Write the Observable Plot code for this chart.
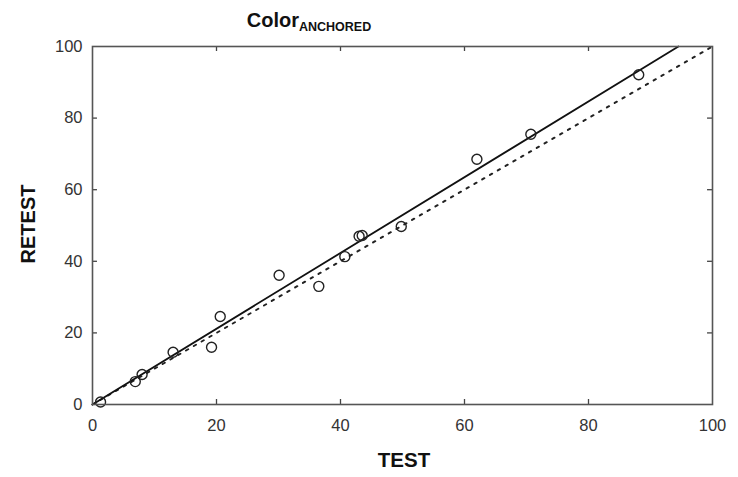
<!DOCTYPE html>
<html><head><meta charset="utf-8">
<script src="https://cdn.jsdelivr.net/npm/d3@7"></script>
<script src="https://cdn.jsdelivr.net/npm/@observablehq/plot@0.6"></script>
<style>body{margin:0;background:#fff} #chart{width:738px;height:477px}</style>
</head><body><div id="chart"></div>
<script>
// Data
const testScores   = [1.3, 6.9, 8.0, 13.0, 19.2, 20.6, 30.1, 36.5, 40.7, 43.0, 43.5, 49.8, 62.0, 70.7, 88.1];
const retestScores = [0.7, 6.4, 8.4, 14.6, 16.0, 24.6, 36.1, 33.0, 41.3, 47.0, 47.2, 49.7, 68.5, 75.5, 92.1];
// Fitted regression line (solid) and identity line (dotted)
const fitTest = [0, 94.5];
const fitRetest = [0, 100];
const identityTest = [0, 100];
const identityRetest = [0, 100];
// Ticks and labels
const tickValues = [0, 20, 40, 60, 80, 100];
const innerTicks = [20, 40, 60, 80];
const titleMain = "Color";
const titleSub = "ANCHORED";
const xLabel = "TEST";
const yLabel = "RETEST";

const font = "'Liberation Sans', Arial, Helvetica, sans-serif";

const svg = Plot.plot({
  width: 738,
  height: 477,
  marginLeft: 92,
  marginRight: 26,
  marginTop: 46,
  marginBottom: 73,
  style: {fontFamily: font, background: "#fff", overflow: "visible"},
  x: {domain: [0, 100]},
  y: {domain: [0, 100]},
  marks: [
    Plot.axisX(tickValues, {tickSize: 0, tickPadding: 15, fontSize: 16.5, color: "#333", label: null}),
    Plot.axisY(tickValues, {tickSize: 0, tickPadding: 10, fontSize: 16.5, color: "#333", label: null}),
    // inward ticks on all four sides
    Plot.ruleX(innerTicks, {x: d => d, y1: 0, y2: 1.4, stroke: "#444", strokeWidth: 1.3}),
    Plot.ruleX(innerTicks, {x: d => d, y1: 98.6, y2: 100, stroke: "#444", strokeWidth: 1.3}),
    Plot.ruleY(innerTicks, {y: d => d, x1: 0, x2: 0.8, stroke: "#444", strokeWidth: 1.3}),
    Plot.ruleY(innerTicks, {y: d => d, x1: 99.2, x2: 100, stroke: "#444", strokeWidth: 1.3}),
    Plot.line(identityTest, {x: identityTest, y: identityRetest, stroke: "#222", strokeWidth: 2, strokeDasharray: "2.5,6.5"}),
    Plot.line(fitTest, {x: fitTest, y: fitRetest, stroke: "#111", strokeWidth: 1.8}),
    Plot.dot(testScores, {x: testScores, y: retestScores, r: 5, stroke: "#222", strokeWidth: 1.4, fill: "none"}),
    Plot.frame({stroke: "#555", strokeWidth: 1.6})
  ]
});

const s = d3.select(svg);
const title = s.append("text")
  .attr("x", 309).attr("y", 26.7)
  .attr("font-family", font).attr("font-weight", "bold").attr("fill", "#111")
  .attr("font-size", 20);
title.append("tspan").text(titleMain);
title.append("tspan").attr("font-size", 12.5).attr("dy", 4.3).text(titleSub);

s.append("text")
  .attr("x", 404).attr("y", 467.3)
  .attr("text-anchor", "middle")
  .attr("font-family", font).attr("font-weight", "bold").attr("fill", "#111")
  .attr("font-size", 20.5)
  .text(xLabel);

s.append("text")
  .attr("transform", "translate(35,224) rotate(-90)")
  .attr("text-anchor", "middle")
  .attr("font-family", font).attr("font-weight", "bold").attr("fill", "#111")
  .attr("font-size", 20)
  .text(yLabel);

document.getElementById("chart").appendChild(svg);
</script>
</body></html>
